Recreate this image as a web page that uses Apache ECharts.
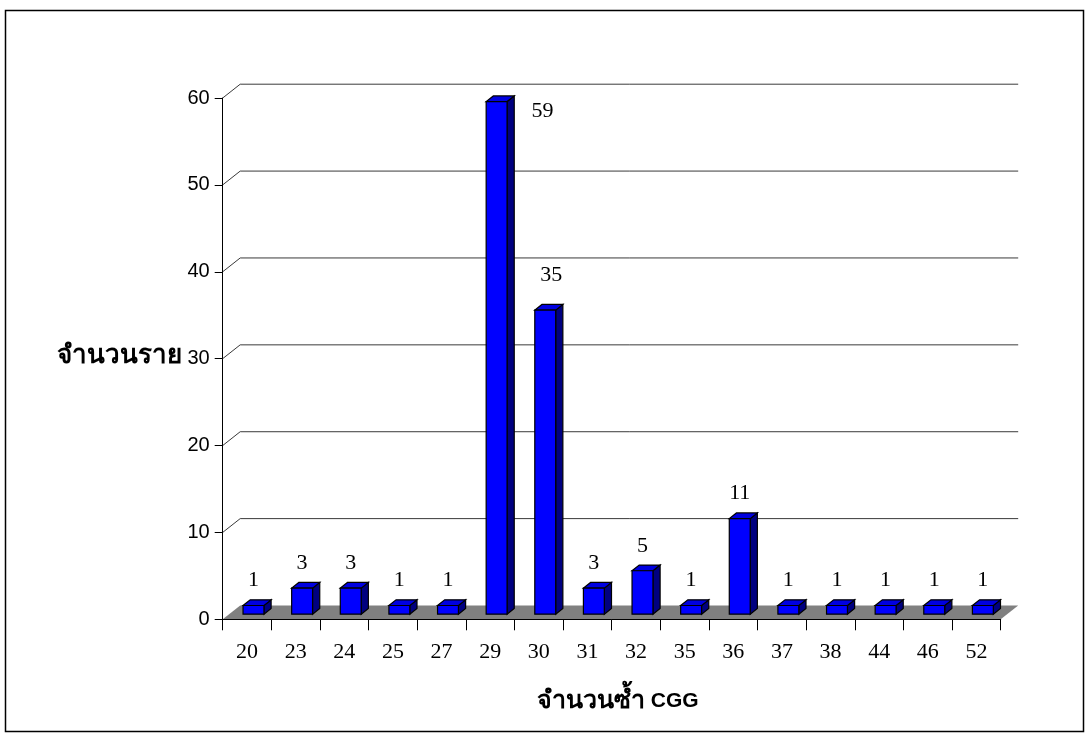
<!DOCTYPE html>
<html>
<head>
<meta charset="utf-8">
<script src="https://cdn.jsdelivr.net/npm/echarts@6/dist/echarts.min.js"></script>
<style>
  html, body { margin: 0; padding: 0; background: #ffffff; }
  #chart { width: 1089px; height: 736px; }
</style>
</head>
<body>
<div id="chart"></div>
<script>
// CGG repeat counts and number of cases for each
const categories = ['20', '23', '24', '25', '27', '29', '30', '31', '32', '35', '36', '37', '38', '44', '46', '52'];
const caseCounts = [1, 3, 3, 1, 1, 59, 35, 3, 5, 1, 11, 1, 1, 1, 1, 1];
const yTicks = [0, 10, 20, 30, 40, 50, 60];
const yAxisTitle = 'จำนวนราย';
const xAxisTitleThai = 'จำนวนซ้ำ';
const xAxisTitleLatin = 'CGG';

// Oblique 3D projection: screen offset of the full floor depth
const DEPTH_X = 17.5;
const DEPTH_Y = -13.8;
// Depth band occupied by the columns (fraction of floor depth)
const BAR_Z0 = 0.37;
const BAR_Z1 = 0.78;
const BAR_W_RATIO = 0.43;

// Label tweaks where the default spot above the column is crowded
const labelNudge = { '29': [46, 35], '30': [6, -10] };

const serif = "'Liberation Serif', 'Times New Roman', serif";
const sans = "'Liberation Sans', Arial, Tahoma, sans-serif";

const chart = echarts.init(document.getElementById('chart'), null, { renderer: 'canvas' });

function renderFloor(params, api) {
  const cs = params.coordSys;
  const x0 = cs.x, x1 = cs.x + cs.width, y = cs.y + cs.height;
  return {
    type: 'polygon',
    shape: { points: [[x0, y], [x1, y], [x1 + DEPTH_X, y + DEPTH_Y], [x0 + DEPTH_X, y + DEPTH_Y]] },
    style: { fill: '#808080', stroke: null }
  };
}

// Gridlines run across the left wall and the back wall
function renderGridLine(params, api) {
  const cs = params.coordSys;
  const v = api.value(1);
  const p = api.coord([0, v]);
  const x0 = cs.x, x1 = cs.x + cs.width, y = p[1];
  return {
    type: 'polyline',
    shape: { points: [[x0, y], [x0 + DEPTH_X, y + DEPTH_Y], [x1 + DEPTH_X, y + DEPTH_Y]] },
    style: { stroke: '#3a3a3a', lineWidth: 1, fill: null }
  };
}

function renderBar(params, api) {
  const i = api.value(0);
  const v = api.value(1);
  const base = api.coord([i, 0]);
  const top = api.coord([i, v]);
  const band = api.size([1, 0])[0];
  const w = band * BAR_W_RATIO;
  const xl = base[0] - w / 2, xr = base[0] + w / 2;
  const fx = DEPTH_X * BAR_Z0, fy = DEPTH_Y * BAR_Z0;
  const bx = DEPTH_X * BAR_Z1, by = DEPTH_Y * BAR_Z1;
  const yb = base[1], yt = top[1];
  const edge = { stroke: '#000000', lineWidth: 1.2 };

  const nudge = labelNudge[categories[i]] || [0, 0];
  const lx = (xl + xr) / 2 + fx + nudge[0];
  const ly = yt + fy - 25 + nudge[1];

  return {
    type: 'group',
    children: [
      {
        type: 'polygon',
        shape: { points: [[xr + fx, yt + fy], [xr + bx, yt + by], [xr + bx, yb + by], [xr + fx, yb + fy]] },
        style: Object.assign({ fill: '#000080' }, edge)
      },
      {
        type: 'polygon',
        shape: { points: [[xl + fx, yt + fy], [xr + fx, yt + fy], [xr + bx, yt + by], [xl + bx, yt + by]] },
        style: Object.assign({ fill: '#0000e0' }, edge)
      },
      {
        type: 'rect',
        shape: { x: xl + fx, y: yt + fy, width: w, height: yb - yt },
        style: Object.assign({ fill: '#0000ff' }, edge)
      },
      {
        type: 'text',
        style: {
          text: String(v), x: lx, y: ly,
          align: 'center', verticalAlign: 'middle',
          font: '22px ' + serif, fill: '#000000'
        }
      }
    ]
  };
}

const option = {
  animation: false,
  backgroundColor: '#ffffff',
  grid: { left: 222.7, right: 88.3, top: 98, bottom: 116.7, containLabel: false },
  xAxis: {
    type: 'category',
    data: categories,
    z: 10,
    axisLine: { show: true, lineStyle: { color: '#000000', width: 1 } },
    axisTick: { show: true, interval: 0, length: 11, lineStyle: { color: '#000000' } },
    axisLabel: { interval: 0, margin: 22, fontSize: 22, fontFamily: serif, color: '#000000' },
    splitLine: { show: false }
  },
  yAxis: {
    type: 'value',
    min: 0, max: 60, interval: 10,
    z: 10,
    axisLine: { show: true, lineStyle: { color: '#000000', width: 1 } },
    axisTick: { show: true, length: 8, lineStyle: { color: '#000000' } },
    axisLabel: { margin: 13, fontSize: 20, fontFamily: sans, color: '#000000' },
    splitLine: { show: false }
  },
  graphic: [
    {
      type: 'rect', z: -1,
      shape: { x: 5.5, y: 10.5, width: 1078, height: 721 },
      style: { fill: null, stroke: '#000000', lineWidth: 1.5 }
    },
    {
      type: 'text', left: 57, top: 343,
      style: { text: yAxisTitle, font: 'bold 26px ' + sans, fill: '#000000' }
    },
    {
      type: 'text', left: 537, top: 689,
      style: {
        text: '{th|' + xAxisTitleThai + '}{lat| ' + xAxisTitleLatin + '}',
        rich: {
          th: { font: 'bold 25px ' + sans, fill: '#000000' },
          lat: { font: 'bold 21px ' + sans, fill: '#000000' }
        }
      }
    }
  ],
  series: [
    {
      type: 'custom', z: 1, silent: true,
      data: [[0, 0]],
      renderItem: renderFloor
    },
    {
      type: 'custom', z: 2, silent: true,
      data: yTicks.filter(t => t > 0).map(t => [0, t]),
      encode: { x: 0, y: 1 },
      renderItem: renderGridLine
    },
    {
      type: 'custom', z: 3, silent: true,
      data: caseCounts.map((v, i) => [i, v]),
      encode: { x: 0, y: 1 },
      renderItem: renderBar
    }
  ]
};

chart.setOption(option);
</script>
</body>
</html>
